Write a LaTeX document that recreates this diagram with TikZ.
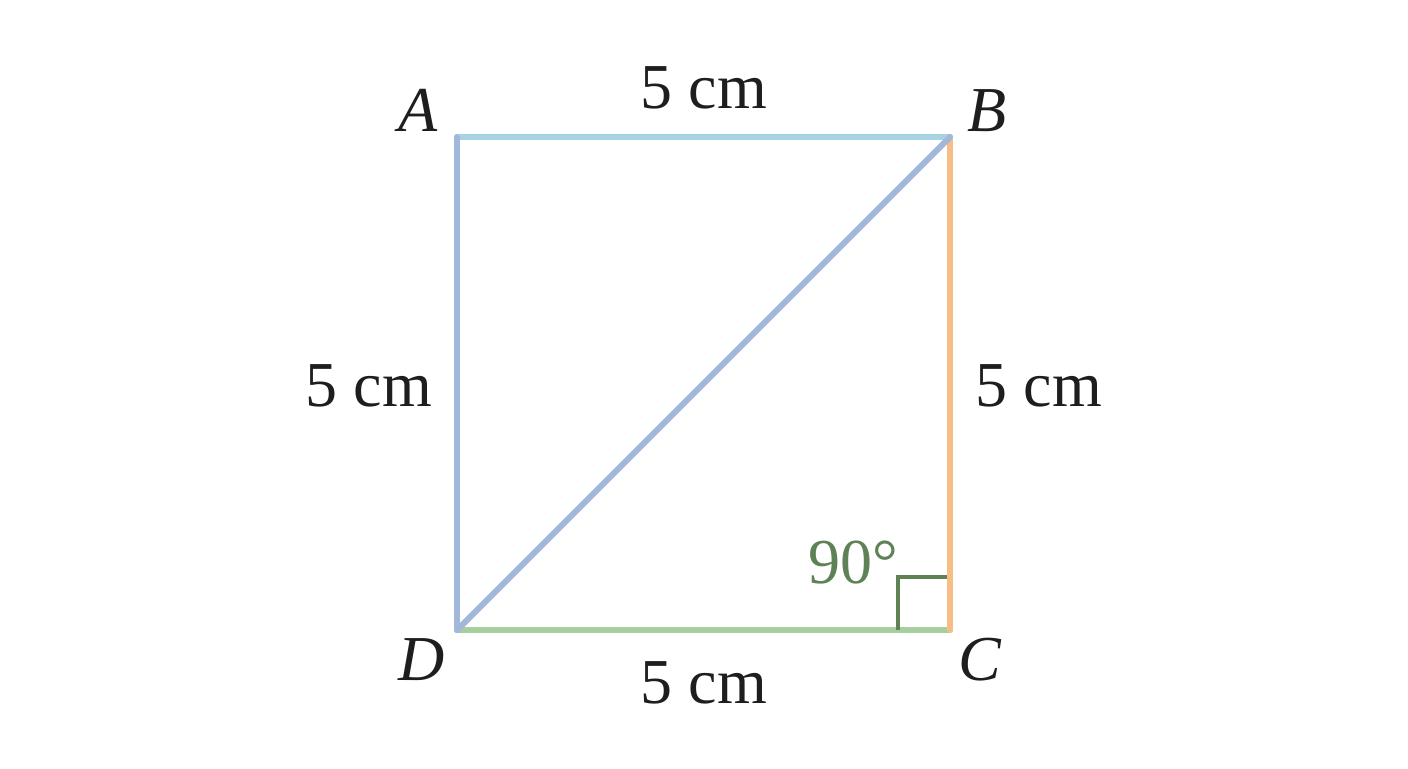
\documentclass[tikz,border=0pt]{standalone}
\usepackage{fontspec}
\setmainfont{Liberation Serif}
\definecolor{topc}{HTML}{A8D3E4}
\definecolor{leftc}{HTML}{A2B8DA}
\definecolor{rightc}{HTML}{F6BD84}
\definecolor{botc}{HTML}{A7CE9E}
\definecolor{markc}{HTML}{5F8156}
\definecolor{txt}{HTML}{1E1E1E}
\begin{document}
\begin{tikzpicture}[x=0.5pt,y=-0.5pt,
  side/.style={line width=3pt,line cap=round,line join=round},
  lbl/.style={font=\fontsize{32}{36}\selectfont,text=txt,inner sep=0pt},
  vtx/.style={font=\fontsize{32}{36}\selectfont\itshape,text=txt,inner sep=0pt}]
\useasboundingbox (0,0) rectangle (1408,768);
\coordinate (A) at (457,137);
\coordinate (B) at (950,137);
\coordinate (C) at (950,630);
\coordinate (D) at (457,630);
\coordinate (m1) at (898,630);
\coordinate (m2) at (898,577);
\coordinate (m3) at (947,577);
\draw[side,botc] (D) -- (C);
\draw[side,rightc] (C) -- (B);
\draw[side,topc] (A) -- (B);
\draw[side,leftc] (A) -- (D);
\draw[side,leftc] (D) -- (B);
\draw[markc,line width=1.6pt] (m1) -- (m2) -- (m3);
\node[vtx] (lA) at (418,110) {A};
\node[vtx] (lB) at (987,111) {B};
\node[vtx] (lC) at (980,660) {C};
\node[vtx] (lD) at (422,660) {D};
\node[lbl] (ltop) at (704,88) {5 cm};
\node[lbl] (lleft) at (369,386) {5 cm};
\node[lbl] (lright) at (1039,386) {5 cm};
\node[lbl] (lbot) at (704,683) {5 cm};
\node[lbl,text=markc] (ang) at (853,563) {90°};
\end{tikzpicture}
\end{document}
